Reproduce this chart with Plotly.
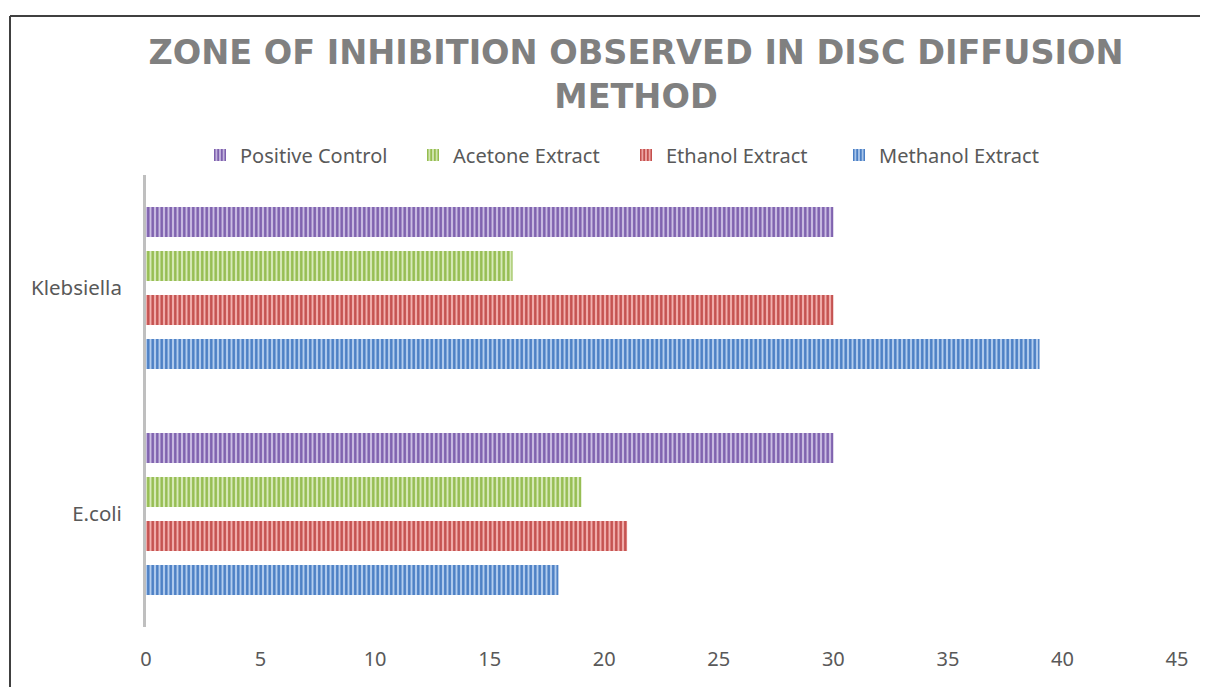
import plotly.graph_objects as go

categories = ["E.coli", "Klebsiella"]
series_names = ["Methanol Extract", "Ethanol Extract", "Acetone Extract", "Positive Control"]
methanol = [18, 39]
ethanol = [21, 30]
acetone = [19, 16]
positive = [30, 30]
x_ticks = [0, 5, 10, 15, 20, 25, 30, 35, 40, 45]

series_values = [methanol, ethanol, acetone, positive]
dark_colors = ["#4a7ec4", "#c4504e", "#95bd50", "#7d60ad"]
light_colors = ["#b3cdee", "#f2b0ae", "#d8eabb", "#cbbde3"]

fig = go.Figure()
for name, vals, dk, lt in zip(series_names, series_values, dark_colors, light_colors):
    fig.add_trace(go.Bar(
        y=categories, x=vals, name=name, orientation="h",
        marker=dict(color=lt, line=dict(width=0),
                    pattern=dict(shape="|", fgcolor=dk, bgcolor=lt,
                                 size=4.5, solidity=0.55, fillmode="replace")),
    ))

# page body adds an 8px offset; work in figure pixels = reference pixels - 8
OFF = 8
W, H = 1208 - OFF, 687 - OFF
ml, mr, mt, mb = 146 - OFF, 31, 175 - OFF, 60
pw = W - ml - mr
ph = H - mt - mb

def px_x(p):
    return (p - OFF - ml) / pw

def px_y(p):
    return (H - mb - (p - OFF)) / ph

fig.update_layout(
    width=W, height=H,
    margin=dict(l=ml, r=mr, t=mt, b=mb),
    paper_bgcolor="white", plot_bgcolor="white",
    barmode="group", bargap=0.22, bargroupgap=0.32,
    title=dict(
        text="ZONE OF INHIBITION OBSERVED IN DISC DIFFUSION<br>METHOD",
        font=dict(family="DejaVu Sans", size=33.5, color="#808080", weight="bold"),
        x=(636 - OFF) / W, xref="container", xanchor="center",
        y=1 - 56 / H, yref="container", yanchor="top",
    ),
    legend=dict(
        orientation="h", traceorder="reversed",
        x=px_x(626), xanchor="center", y=px_y(155), yanchor="middle",
        font=dict(family="Noto Sans", size=20, color="#595959"),
        entrywidth=168,
    ),
    xaxis=dict(
        range=[0, 45], tickvals=x_ticks, showgrid=False, zeroline=False,
        showline=False, ticks="", ticklabelstandoff=18,
        tickfont=dict(family="Noto Sans", size=20, color="#595959"),
    ),
    yaxis=dict(
        showgrid=False, zeroline=False, showline=True, linecolor="#bfbfbf",
        linewidth=3, ticks="", ticklabelstandoff=17,
        tickfont=dict(family="Noto Sans", size=20.5, color="#595959"),
    ),
    shapes=[
        dict(type="line", xref="paper", yref="paper",
             x0=px_x(10), x1=px_x(1215), y0=px_y(16), y1=px_y(16),
             line=dict(color="#404040", width=2)),
        dict(type="line", xref="paper", yref="paper",
             x0=px_x(10), x1=px_x(10), y0=px_y(16), y1=px_y(700),
             line=dict(color="#404040", width=2)),
    ],
)

fig.write_html("out.html")
